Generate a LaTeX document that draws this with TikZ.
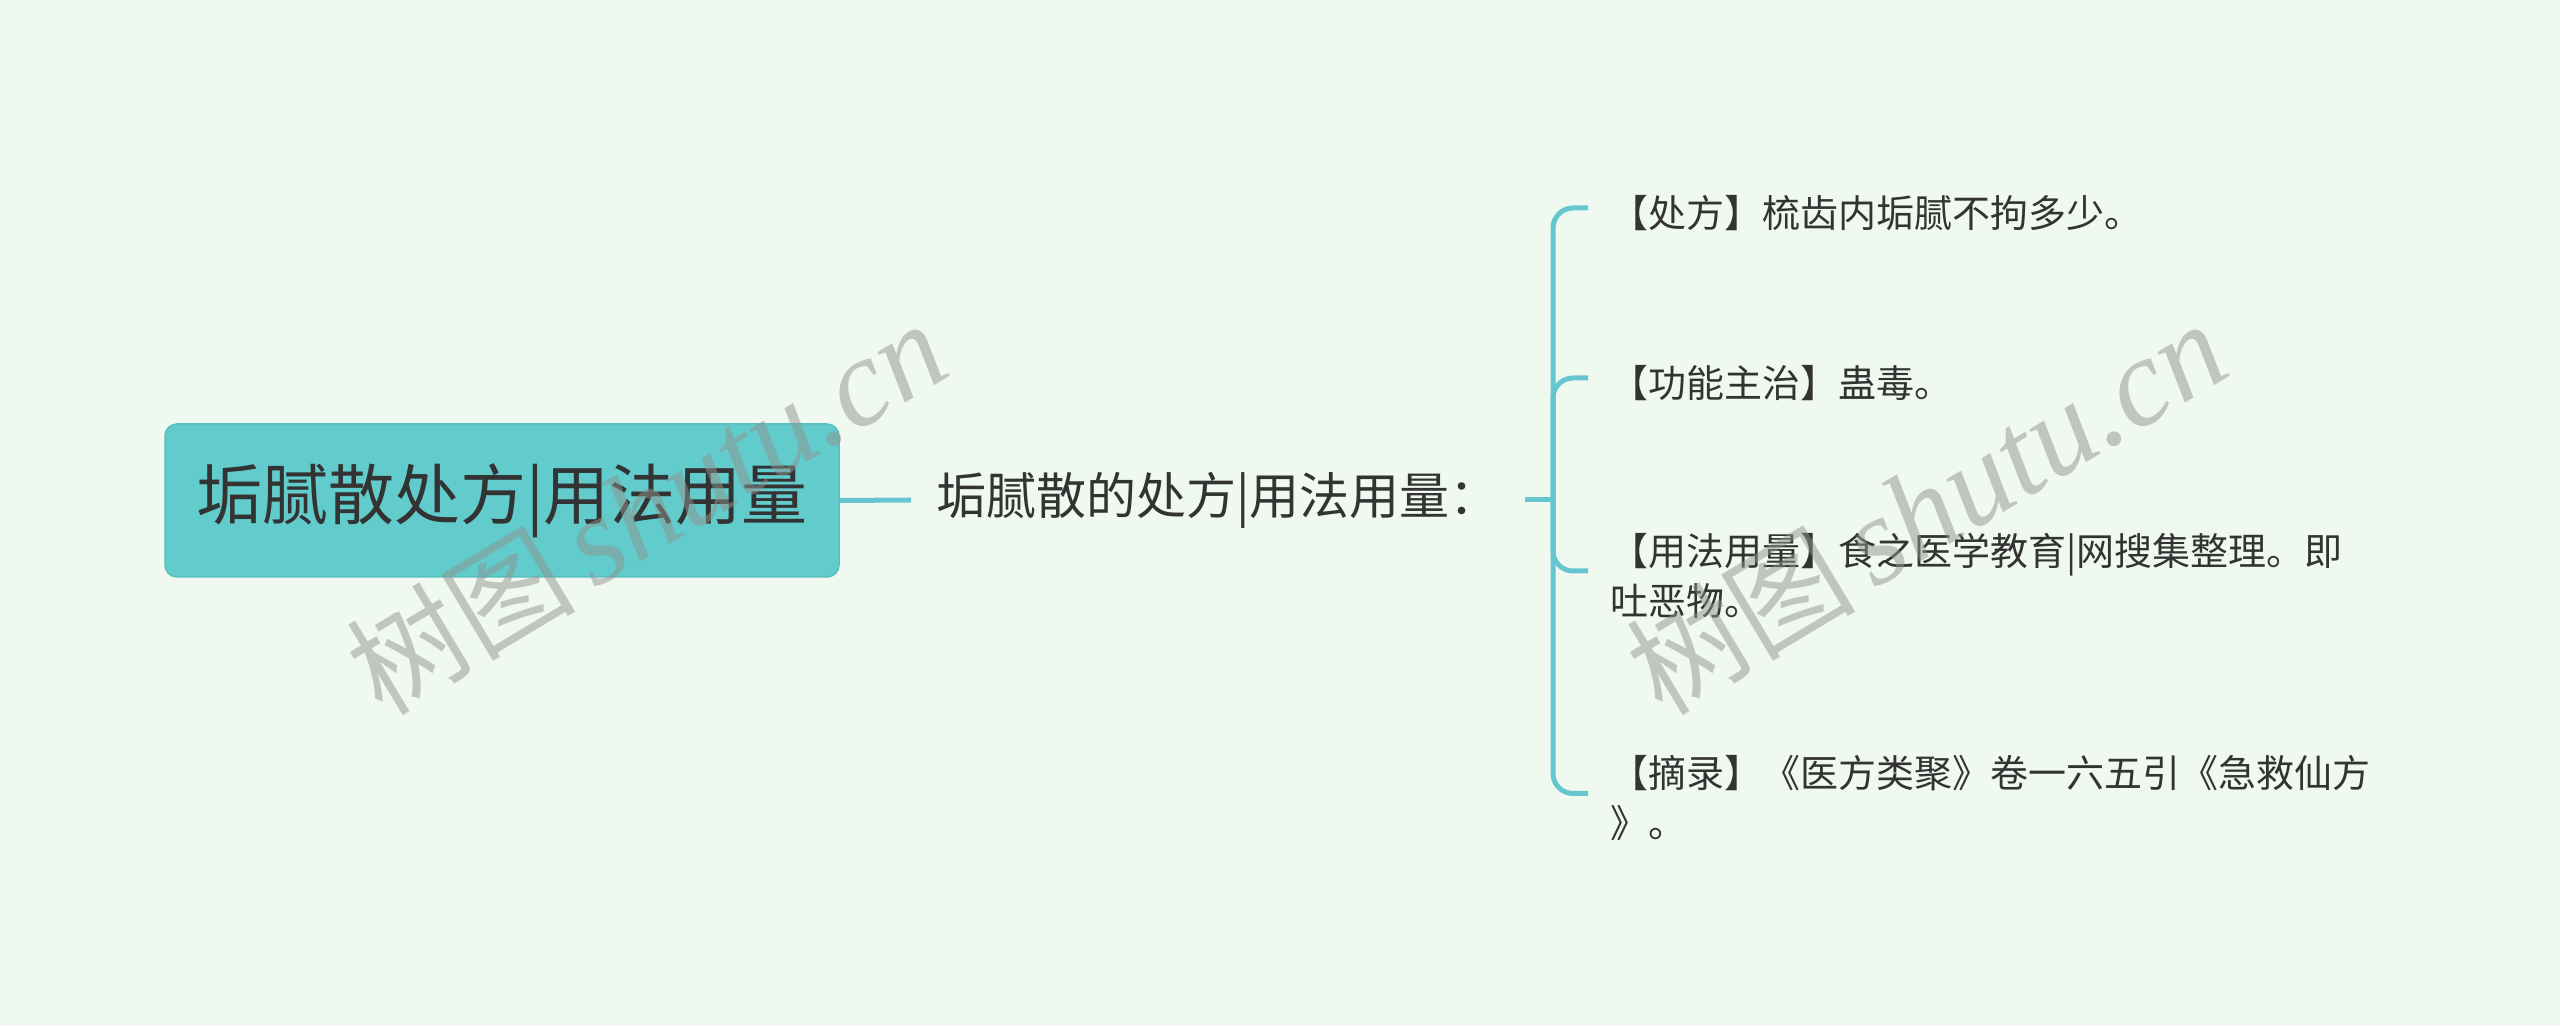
\documentclass[tikz,border=0pt]{standalone}
\usepackage{fontspec}
\setmainfont{Noto Sans CJK SC}
\newfontfamily\wmserif{Liberation Serif}
\definecolor{bgmint}{HTML}{F0F9EF}
\definecolor{rootteal}{HTML}{62CBCC}
\definecolor{rimteal}{HTML}{58BFC2}
\definecolor{linkteal}{HTML}{66C6CF}
\definecolor{inkgray}{HTML}{333333}
\definecolor{markgray}{HTML}{8F9590}
\begin{document}
\begin{tikzpicture}[x=1pt,y=1pt,
  link/.style={draw=linkteal,line width=5pt},
  rootbox/.style={fill=rootteal,draw=rimteal,line width=1.5pt,rounded corners=12pt,
    minimum width=674pt,minimum height=153pt,text=inkgray,font=\fontsize{66}{78}\selectfont},
  subtopic/.style={anchor=west,text=inkgray,inner xsep=25pt,font=\fontsize{50}{60}\selectfont},
  leaf/.style={anchor=west,align=left,text=inkgray,inner xsep=22pt,inner ysep=4pt,
    font=\fontsize{38}{50}\selectfont},
  watermark/.style={rotate=31,text=markgray,text opacity=0.5,inner sep=0pt,
    font=\fontsize{115}{115}\selectfont}]
  \fill[bgmint] (0,0) rectangle (2560,1026);
  \useasboundingbox (0,0) rectangle (2560,1026);

  \node[rootbox] (root) at (502,525.5) {垢腻散处方|用法用量};
  \node[subtopic] (sub) at (911,526) {垢腻散的处方|用法用量：};
  \coordinate (fork) at (1553,526);

  \node[leaf] (chufang) at (1588,813) {【处方】梳齿内垢腻不拘多少。};
  \node[leaf] (gongneng) at (1588,643) {【功能主治】蛊毒。};
  \node[leaf] (yongfa) at (1588,450) {【用法用量】食之医学教育|网搜集整理。即\\吐恶物。};
  \node[leaf] (zhailu) at (1588,227.5) {【摘录】《医方类聚》卷一六五引《急救仙方\\》。};

  \draw[link] (root.east) -- (sub.west);
  \draw[link] (sub.east) -- (fork);
  \draw[link,rounded corners=20pt] (fork) |- ([yshift=5pt]chufang.west);
  \draw[link,rounded corners=20pt] (fork) |- ([yshift=5pt]gongneng.west);
  \draw[link,rounded corners=20pt] (fork) |- ([yshift=5pt]yongfa.west);
  \draw[link,rounded corners=20pt] (fork) |- ([yshift=5pt]zhailu.west);

  \node[watermark] (markleft) at (646,518) {树图\hspace{18pt}{\wmserif\itshape\fontsize{125}{125}\selectfont shutu.cn}};
  \node[watermark] (markright) at (1926,518) {树图\hspace{18pt}{\wmserif\itshape\fontsize{125}{125}\selectfont shutu.cn}};
\end{tikzpicture}
\end{document}
